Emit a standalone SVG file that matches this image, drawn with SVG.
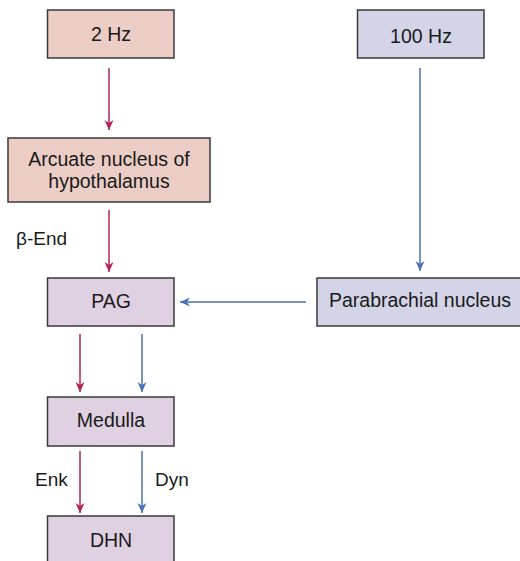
<svg xmlns="http://www.w3.org/2000/svg" width="520" height="561" viewBox="0 0 520 561">
<style>
.box{stroke:#3a3a3a;stroke-width:1.5}
.pink{fill:#ebcdc5}
.purple{fill:#dfd0e2}
.blue{fill:#d3d4e7}
.t{font-family:"Liberation Sans",Arial,sans-serif;font-size:19.5px;fill:#1a1a1a;text-anchor:middle}
.l{font-family:"Liberation Sans",Arial,sans-serif;font-size:19px;fill:#1a1a1a}
.r{stroke:#b3245c;stroke-width:1.5;fill:none;marker-end:url(#mr)}
.b{stroke:#4a70b5;stroke-width:1.5;fill:none;marker-end:url(#mb)}
</style>
<defs>
<marker id="mr" markerWidth="12" markerHeight="12" refX="10" refY="5.5" orient="auto" markerUnits="userSpaceOnUse"><path d="M0,1 L10,5.5 L0,10 L3,5.5 Z" fill="#b3245c"/></marker>
<marker id="mb" markerWidth="12" markerHeight="12" refX="10" refY="5.5" orient="auto" markerUnits="userSpaceOnUse"><path d="M0,1 L10,5.5 L0,10 L3,5.5 Z" fill="#4a70b5"/></marker>
</defs>
<rect width="520" height="561" fill="#fff"/>
<g id="n2hz"><rect class="box pink" x="47.5" y="10" width="126.5" height="48"/><text class="t" x="111" y="41">2 Hz</text></g>
<g id="n100hz"><rect class="box blue" x="357.5" y="10" width="126.5" height="48"/><text class="t" x="421" y="43">100 Hz</text></g>
<g id="arcuate"><rect class="box pink" x="8" y="138" width="202" height="64"/><text class="t" x="109" y="165.5">Arcuate nucleus of</text><text class="t" x="109" y="188">hypothalamus</text></g>
<g id="pag"><rect class="box purple" x="47.5" y="278" width="126.5" height="48"/><text class="t" x="111" y="308">PAG</text></g>
<g id="parabrachial"><rect class="box blue" x="317" y="278" width="210" height="48"/><text class="t" x="420" y="307">Parabrachial nucleus</text></g>
<g id="medulla"><rect class="box purple" x="47.5" y="397" width="126.5" height="49"/><text class="t" x="111" y="427">Medulla</text></g>
<g id="dhn"><rect class="box purple" x="47.5" y="516" width="126.5" height="50"/><text class="t" x="111" y="547">DHN</text></g>
<g id="labels">
<text class="l" x="16" y="245">β-End</text>
<text class="l" x="35" y="486">Enk</text>
<text class="l" x="155" y="486">Dyn</text>
</g>
<g id="connectors">
<line class="r" x1="109" y1="68" x2="109" y2="130"/>
<line class="r" x1="109" y1="210" x2="109" y2="272"/>
<line class="b" x1="420" y1="68" x2="420" y2="271"/>
<line class="b" x1="306" y1="302" x2="180" y2="302"/>
<line class="r" x1="80" y1="334" x2="80" y2="392"/>
<line class="b" x1="142" y1="334" x2="142" y2="392"/>
<line class="r" x1="80" y1="451" x2="80" y2="513"/>
<line class="b" x1="142" y1="451" x2="142" y2="513"/>
</g>
</svg>
